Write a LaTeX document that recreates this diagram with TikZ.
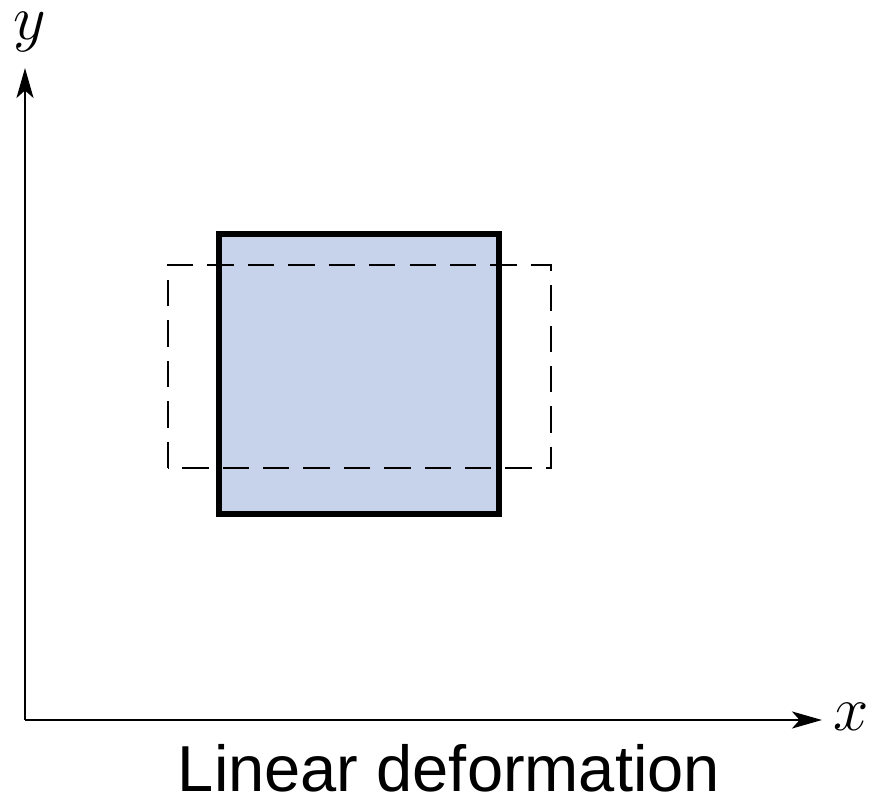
\documentclass[tikz,border=0pt]{standalone}
\usepackage{fontspec}
\usepackage{graphicx}
\setsansfont{Liberation Sans}
\usetikzlibrary{arrows.meta}
\definecolor{sqfill}{RGB}{199,211,235}
\tikzset{axis/.style={line width=1.2pt,-{Stealth[length=0.6cm,width=0.34cm,inset=0.15cm]}},
  solidsq/.style={line width=3pt,fill=sqfill},
  dashsq/.style={line width=1.3pt,dash pattern=on 15pt off 8pt},
  lbl/.style={inner sep=0pt,font=\fontsize{24.88}{30}\selectfont}}
\newcommand{\biglbl}[1]{\scalebox{1.45}{$#1$}}

\begin{document}
\begin{tikzpicture}[x=0.02cm,y=0.02cm]
      \useasboundingbox (0,0) rectangle (874,800);
      \coordinate (O) at (25,80);
      \coordinate (xend) at (822,80);
      \coordinate (yend) at (25,732);
      \node[lbl] (x) at (851,83) {\biglbl{x}};
      \node[lbl] (y) at (30,768) {\biglbl{y}};
      \node[lbl,anchor=base,font=\sffamily\fontsize{37}{40}\selectfont] (cap) at (449,9) {Linear deformation};

      \draw[solidsq] (219,286) rectangle (499,566);
      \draw[dashsq] (168,332) rectangle (551,535);

      \draw[axis] (O) -- (xend);
      \draw[axis] (O) -- (yend);
    \end{tikzpicture}
\end{document}
